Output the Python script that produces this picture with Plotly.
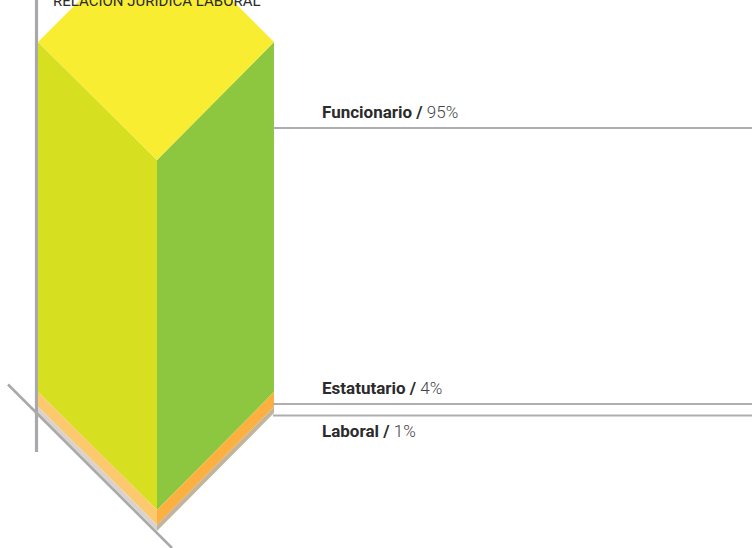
import plotly.graph_objects as go

categories = ["Funcionario", "Estatutario", "Laboral"]
percent_labels = ["95%", "4%", "1%"]
# heights, in percent of the column (the thin slice is drawn slightly thicker than 1%)
drawn_shares = [95.0, 4.0, 1.7]
left_colors = ["#D7DF21", "#FDC96F", "#D9D3CC"]
right_colors = ["#8DC63F", "#FBB040", "#C2B59B"]
top_color = "#F9ED32"
line_color = "#A9A9AD"
title = "RELACIÓN JURÍDICA LABORAL"
label_font = "Roboto, sans-serif"

# column geometry in pixel-like axis units
X_LEFT, X_MID, X_RIGHT = 38, 157, 274
Y_TOP_SIDE, Y_TOP_MID, Y_BACK = 42, 160, -76
PX_PER_PCT = 350 / 95

fig = go.Figure()

def poly(xs, ys, color):
    fig.add_trace(go.Scatter(x=xs, y=ys, mode="lines", fill="toself", fillcolor=color,
                             line=dict(width=0, color=color), hoverinfo="skip", showlegend=False))

def seg(xs, ys, width, color=line_color):
    fig.add_trace(go.Scatter(x=xs, y=ys, mode="lines", line=dict(width=width, color=color),
                             hoverinfo="skip", showlegend=False))

# axis lines behind the column
seg([36.5, 36.5], [0, 452], 3.2)

# stacked faces, from the top of the column down
depth = 0
for share, lc, rc in zip(drawn_shares, left_colors, right_colors):
    h0 = depth * PX_PER_PCT
    h1 = (depth + share) * PX_PER_PCT
    poly([X_LEFT, X_MID, X_MID, X_LEFT],
         [Y_TOP_SIDE + h0, Y_TOP_MID + h0, Y_TOP_MID + h1, Y_TOP_SIDE + h1], lc)
    poly([X_MID, X_RIGHT, X_RIGHT, X_MID],
         [Y_TOP_MID + h0, Y_TOP_SIDE + h0, Y_TOP_SIDE + h1, Y_TOP_MID + h1], rc)
    depth += share

poly([X_LEFT, (X_LEFT + X_RIGHT) / 2, X_RIGHT, X_MID],
     [Y_TOP_SIDE, Y_BACK, Y_TOP_SIDE, Y_TOP_MID], top_color)

# base diagonal
seg([8, 172], [384.5, 548], 2.6)

# leader lines and labels
leader_y = [128, 404, 415.5]
label_y = [112, 388, 431]
for name, pct, ly, ty in zip(categories, percent_labels, leader_y, label_y):
    seg([273, 752], [ly, ly], 2.2, "#AEAEB0")
    fig.add_annotation(x=322, y=ty, xref="x", yref="y", xanchor="left", yanchor="middle",
                       showarrow=False, align="left", xshift=-2,
                       text=f'<b><span style="color:#2B2B2B">{name} /</span></b> '
                            f'<span style="color:#444444;font-weight:300">{pct}</span>',
                       font=dict(family=label_font, size=17, color="#2B2B2B"))

fig.add_annotation(x=157, y=1, xref="x", yref="paper", xanchor="center", yanchor="middle",
                   showarrow=False, text=title, yshift=-1,
                   font=dict(family=label_font, size=15, color="#2B2B2B"))

fig.update_layout(
    width=752, height=548, margin=dict(l=0, r=0, t=0, b=0),
    paper_bgcolor="white", plot_bgcolor="white", showlegend=False,
    xaxis=dict(range=[0, 752], visible=False, fixedrange=True),
    yaxis=dict(range=[548, 0], visible=False, fixedrange=True),
)
fig.write_html("out.html", config=dict(displayModeBar=False),
               post_script="document.body.style.margin='0';document.body.style.overflow='hidden';")
